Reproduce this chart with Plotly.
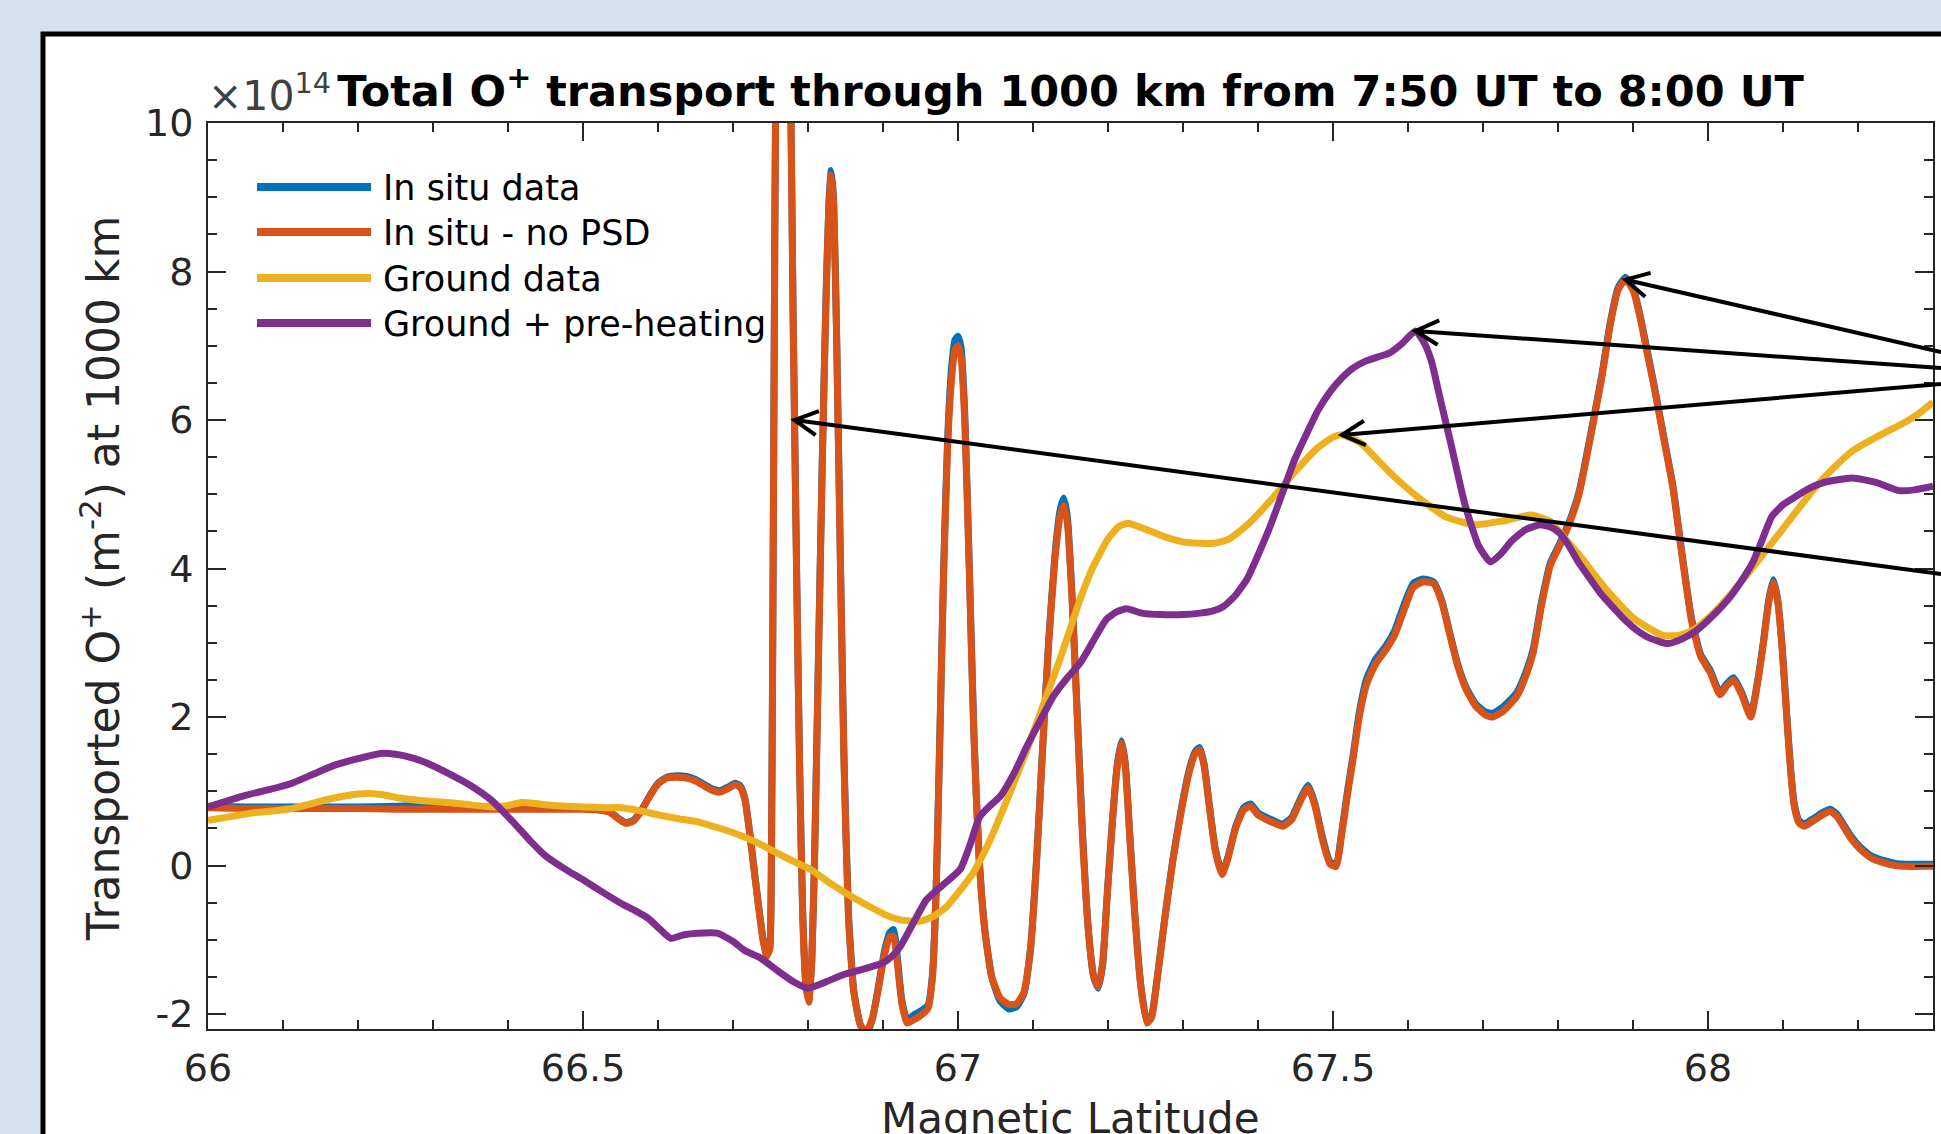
import math
import plotly.graph_objects as go

# ---------------------------------------------------------------------------
# Data: O+ transport through 1000 km (units of 1e14 m^-2) vs magnetic latitude
# ---------------------------------------------------------------------------
lat_insitu = [
    66.000, 66.050, 66.100, 66.150, 66.200, 66.250, 66.300, 66.350, 66.400, 66.450,
    66.500, 66.520, 66.535, 66.547, 66.557, 66.567, 66.578, 66.590, 66.600, 66.612,
    66.625, 66.638, 66.650, 66.662, 66.673, 66.683, 66.694, 66.703, 66.710, 66.716,
    66.722, 66.728, 66.734, 66.740, 66.745, 66.749, 66.751, 66.753, 66.755, 66.757,
    66.762, 66.768, 66.773, 66.777, 66.780, 66.782, 66.785, 66.789, 66.793, 66.797,
    66.801, 66.805, 66.809, 66.814, 66.819, 66.824, 66.828, 66.831, 66.834, 66.838,
    66.843, 66.848, 66.854, 66.861, 66.870, 66.878, 66.886, 66.894, 66.902, 66.909,
    66.914, 66.919, 66.925, 66.932, 66.940, 66.950, 66.960, 66.966, 66.971, 66.976,
    66.981, 66.986, 66.991, 66.996, 67.000, 67.004, 67.009, 67.015, 67.021, 67.028,
    67.036, 67.045, 67.056, 67.068, 67.078, 67.088, 67.097, 67.105, 67.113, 67.121,
    67.129, 67.136, 67.141, 67.146, 67.152, 67.159, 67.166, 67.174, 67.181, 67.187,
    67.193, 67.199, 67.206, 67.212, 67.218, 67.223, 67.229, 67.236, 67.244, 67.252,
    67.258, 67.266, 67.276, 67.287, 67.298, 67.308, 67.316, 67.322, 67.328, 67.335,
    67.343, 67.352, 67.360, 67.370, 67.381, 67.390, 67.400, 67.411, 67.422, 67.433,
    67.445, 67.457, 67.467, 67.476, 67.486, 67.496, 67.504, 67.512, 67.520, 67.527,
    67.535, 67.545, 67.557, 67.570, 67.582, 67.595, 67.607, 67.620, 67.634, 67.645,
    67.656, 67.666, 67.677, 67.690, 67.703, 67.713, 67.727, 67.745, 67.757, 67.767,
    67.778, 67.790, 67.802, 67.815, 67.828, 67.842, 67.858, 67.870, 67.880, 67.890,
    67.900, 67.909, 67.919, 67.928, 67.940, 67.953, 67.965, 67.978, 67.990, 68.003,
    68.016, 68.025, 68.034, 68.045, 68.057, 68.066, 68.074, 68.081, 68.087, 68.093,
    68.099, 68.105, 68.110, 68.115, 68.121, 68.128, 68.140, 68.152, 68.163, 68.172,
    68.181, 68.191, 68.203, 68.218, 68.234, 68.250, 68.265, 68.283, 68.300,
]

insitu_data = [
    0.80, 0.79, 0.79, 0.79, 0.79, 0.80, 0.82, 0.80, 0.78, 0.78,
    0.78, 0.77, 0.73, 0.64, 0.58, 0.61, 0.75, 0.96, 1.11, 1.19,
    1.21, 1.20, 1.16, 1.09, 1.03, 1.01, 1.06, 1.11, 1.07, 0.90,
    0.47, -0.03, -0.53, -0.98, -1.20, -1.10, -0.18, 3.05, 7.05, 10.45,
    12.85, 13.65, 12.55, 10.35, 7.55, 6.05, 3.85, 1.25, -0.65, -1.55,
    -1.82, -1.28, 0.25, 2.85, 5.45, 7.65, 8.95, 9.36, 9.00, 7.25,
    4.25, 1.45, -0.65, -1.68, -2.15, -2.26, -2.06, -1.62, -1.15, -0.90,
    -0.86, -1.22, -1.80, -2.08, -2.02, -1.96, -1.88, -1.46, -0.26, 1.85,
    4.05, 5.70, 6.65, 7.08, 7.13, 6.98, 6.10, 4.05, 1.85, 0.15,
    -0.88, -1.50, -1.82, -1.93, -1.90, -1.72, -1.08, 0.12, 1.62, 3.05,
    4.15, 4.78, 4.95, 4.68, 3.65, 2.05, 0.45, -0.88, -1.50, -1.65,
    -1.32, -0.38, 0.62, 1.33, 1.68, 1.38, 0.43, -0.68, -1.63, -2.10,
    -2.03, -1.48, -0.68, 0.12, 0.78, 1.28, 1.53, 1.59, 1.38, 0.83,
    0.23, -0.10, 0.12, 0.52, 0.78, 0.83, 0.71, 0.65, 0.60, 0.56,
    0.65, 0.91, 1.08, 0.83, 0.38, 0.05, 0.02, 0.48, 1.05, 1.50,
    2.06, 2.52, 2.78, 2.95, 3.16, 3.52, 3.80, 3.86, 3.82, 3.57,
    3.12, 2.72, 2.41, 2.18, 2.07, 2.05, 2.14, 2.33, 2.60, 2.92,
    3.55, 4.08, 4.33, 4.63, 5.03, 5.73, 6.58, 7.33, 7.78, 7.92,
    7.78, 7.43, 6.93, 6.48, 5.83, 5.13, 4.23, 3.33, 2.85, 2.63,
    2.33, 2.45, 2.53, 2.33, 2.03, 2.48, 3.03, 3.58, 3.85, 3.58,
    2.93, 2.03, 1.33, 0.83, 0.61, 0.56, 0.63, 0.71, 0.76, 0.69,
    0.55, 0.39, 0.25, 0.13, 0.07, 0.03, 0.02, 0.02, 0.02,
]

insitu_no_psd = [
    0.78, 0.77, 0.77, 0.77, 0.77, 0.76, 0.76, 0.76, 0.76, 0.76,
    0.76, 0.75, 0.72, 0.63, 0.57, 0.60, 0.74, 0.95, 1.10, 1.18,
    1.19, 1.18, 1.14, 1.07, 1.01, 0.99, 1.04, 1.09, 1.05, 0.88,
    0.45, -0.05, -0.55, -1.00, -1.22, -1.12, -0.20, 3.00, 7.00, 10.40,
    12.80, 13.60, 12.50, 10.30, 7.50, 6.00, 3.80, 1.20, -0.70, -1.60,
    -1.84, -1.30, 0.20, 2.80, 5.40, 7.60, 8.90, 9.30, 8.95, 7.20,
    4.20, 1.40, -0.70, -1.70, -2.15, -2.24, -2.05, -1.65, -1.20, -0.96,
    -0.95, -1.30, -1.85, -2.12, -2.08, -2.02, -1.92, -1.50, -0.30, 1.80,
    4.00, 5.60, 6.50, 6.95, 7.00, 6.85, 6.00, 4.00, 1.80, 0.10,
    -0.90, -1.50, -1.78, -1.87, -1.86, -1.70, -1.10, 0.10, 1.60, 3.00,
    4.10, 4.70, 4.85, 4.60, 3.60, 2.00, 0.40, -0.90, -1.50, -1.63,
    -1.30, -0.40, 0.60, 1.30, 1.65, 1.35, 0.40, -0.70, -1.65, -2.12,
    -2.05, -1.50, -0.70, 0.10, 0.75, 1.25, 1.50, 1.56, 1.35, 0.80,
    0.20, -0.12, 0.10, 0.50, 0.75, 0.80, 0.68, 0.62, 0.57, 0.53,
    0.62, 0.88, 1.05, 0.80, 0.35, 0.02, -0.01, 0.45, 1.00, 1.45,
    2.00, 2.45, 2.72, 2.90, 3.10, 3.45, 3.75, 3.82, 3.80, 3.55,
    3.10, 2.70, 2.38, 2.15, 2.03, 2.00, 2.08, 2.28, 2.55, 2.87,
    3.50, 4.05, 4.30, 4.60, 5.00, 5.70, 6.55, 7.30, 7.75, 7.89,
    7.75, 7.40, 6.90, 6.45, 5.80, 5.10, 4.20, 3.30, 2.82, 2.60,
    2.30, 2.42, 2.50, 2.30, 2.00, 2.45, 3.00, 3.55, 3.82, 3.55,
    2.90, 2.00, 1.30, 0.80, 0.58, 0.53, 0.60, 0.68, 0.73, 0.66,
    0.52, 0.36, 0.22, 0.10, 0.04, 0.00, -0.01, -0.01, -0.01,
]

lat_ground = [
    66.000, 66.030, 66.060, 66.090, 66.112, 66.140, 66.168, 66.190, 66.214, 66.235,
    66.255, 66.280, 66.306, 66.340, 66.378, 66.400, 66.418, 66.435, 66.449, 66.475,
    66.500, 66.530, 66.551, 66.575, 66.602, 66.628, 66.653, 66.680, 66.704, 66.730,
    66.755, 66.780, 66.803, 66.830, 66.855, 66.880, 66.905, 66.923, 66.949, 66.968,
    66.985, 67.003, 67.020, 67.035, 67.047, 67.070, 67.092, 67.115, 67.136, 67.150,
    67.163, 67.180, 67.200, 67.215, 67.227, 67.250, 67.275, 67.300, 67.323, 67.340,
    67.360, 67.386, 67.417, 67.449, 67.480, 67.500, 67.512, 67.537, 67.556, 67.575,
    67.612, 67.650, 67.688, 67.726, 67.764, 67.789, 67.808, 67.827, 67.865, 67.902,
    67.940, 67.960, 67.978, 68.000, 68.016, 68.053, 68.091, 68.117, 68.142, 68.167,
    68.192, 68.230, 68.261, 68.280, 68.300,
]

ground_data = [
    0.61, 0.66, 0.71, 0.74, 0.77, 0.84, 0.91, 0.95, 0.97, 0.95,
    0.91, 0.88, 0.86, 0.83, 0.79, 0.81, 0.85, 0.84, 0.82, 0.80,
    0.79, 0.78, 0.78, 0.74, 0.68, 0.63, 0.59, 0.51, 0.43, 0.32,
    0.19, 0.06, -0.05, -0.24, -0.40, -0.54, -0.67, -0.73, -0.75, -0.68,
    -0.55, -0.33, -0.10, 0.18, 0.44, 1.00, 1.56, 2.20, 2.78, 3.20,
    3.59, 4.02, 4.40, 4.57, 4.61, 4.53, 4.43, 4.36, 4.34, 4.34,
    4.39, 4.59, 4.92, 5.30, 5.63, 5.77, 5.80, 5.69, 5.50, 5.30,
    4.97, 4.70, 4.59, 4.64, 4.72, 4.64, 4.42, 4.20, 3.71, 3.32,
    3.10, 3.10, 3.16, 3.33, 3.49, 3.93, 4.42, 4.76, 5.08, 5.35,
    5.58, 5.80, 5.96, 6.08, 6.24,
]

lat_preheat = [
    66.000, 66.025, 66.051, 66.080, 66.112, 66.140, 66.168, 66.200, 66.230, 66.250,
    66.265, 66.290, 66.321, 66.350, 66.378, 66.395, 66.413, 66.430, 66.449, 66.475,
    66.500, 66.525, 66.551, 66.570, 66.587, 66.603, 66.617, 66.635, 66.653, 66.679,
    66.700, 66.715, 66.736, 66.760, 66.780, 66.800, 66.825, 66.847, 66.875, 66.900,
    66.912, 66.923, 66.940, 66.958, 66.980, 67.003, 67.015, 67.029, 67.042, 67.056,
    67.075, 67.092, 67.110, 67.127, 67.145, 67.163, 67.180, 67.198, 67.212, 67.225,
    67.245, 67.270, 67.300, 67.323, 67.340, 67.354, 67.370, 67.386, 67.400, 67.417,
    67.433, 67.449, 67.465, 67.480, 67.496, 67.512, 67.528, 67.543, 67.560, 67.575,
    67.592, 67.610, 67.621, 67.631, 67.644, 67.657, 67.676, 67.694, 67.710, 67.724,
    67.738, 67.756, 67.776, 67.790, 67.802, 67.815, 67.827, 67.843, 67.858, 67.875,
    67.890, 67.905, 67.921, 67.946, 67.965, 67.984, 68.005, 68.028, 68.045, 68.060,
    68.072, 68.085, 68.100, 68.117, 68.135, 68.155, 68.192, 68.224, 68.240, 68.255,
    68.275, 68.300,
]

ground_preheat = [
    0.79, 0.87, 0.95, 1.02, 1.11, 1.23, 1.35, 1.44, 1.51, 1.50,
    1.47, 1.39, 1.24, 1.08, 0.88, 0.71, 0.52, 0.33, 0.14, -0.04,
    -0.19, -0.35, -0.51, -0.61, -0.71, -0.86, -0.98, -0.93, -0.91, -0.91,
    -1.02, -1.14, -1.24, -1.42, -1.56, -1.65, -1.56, -1.47, -1.39, -1.31,
    -1.22, -1.09, -0.78, -0.46, -0.26, -0.05, 0.25, 0.66, 0.80, 0.93,
    1.25, 1.61, 1.96, 2.28, 2.52, 2.73, 3.02, 3.32, 3.42, 3.46,
    3.40, 3.38, 3.38, 3.40, 3.43, 3.49, 3.64, 3.87, 4.18, 4.59,
    5.03, 5.47, 5.82, 6.13, 6.38, 6.57, 6.71, 6.79, 6.85, 6.90,
    7.03, 7.20, 7.05, 6.80, 6.24, 5.69, 4.86, 4.31, 4.09, 4.20,
    4.37, 4.52, 4.59, 4.56, 4.48, 4.30, 4.09, 3.86, 3.65, 3.46,
    3.30, 3.17, 3.07, 2.99, 3.05, 3.16, 3.35, 3.60, 3.84, 4.09,
    4.38, 4.70, 4.86, 4.97, 5.08, 5.16, 5.22, 5.16, 5.10, 5.05,
    5.06, 5.11,
]

series_names = ["In situ data", "In situ - no PSD", "Ground data", "Ground + pre-heating"]
series_colors = ["#0072BD", "#D95319", "#EDB120", "#7E2F8E"]

x_ticks = [66, 66.5, 67, 67.5, 68]
y_ticks = [-2, 0, 2, 4, 6, 8, 10]

# ---------------------------------------------------------------------------
# Geometry of the figure (pixels)
# ---------------------------------------------------------------------------
W, H = 1941, 1134
ML, MR, MT, MB = 208, 8, 123, 105
X_RANGE = [66, 68.3]
Y_RANGE = [-2.2, 10.0]
PW, PH = W - ML - MR, H - MT - MB

INK = "#262626"
FONT = "DejaVu Sans"


def paper_x(px):
    return (px - ML) / PW


def paper_y(py):
    return (H - MB - py) / PH


def data_to_px(x, y):
    px = ML + (x - X_RANGE[0]) / (X_RANGE[1] - X_RANGE[0]) * PW
    py = MT + (Y_RANGE[1] - y) / (Y_RANGE[1] - Y_RANGE[0]) * PH
    return px, py


fig = go.Figure()

series = [
    (lat_insitu, insitu_data),
    (lat_insitu, insitu_no_psd),
    (lat_ground, ground_data),
    (lat_preheat, ground_preheat),
]
for (xs, ys), name, color in zip(series, series_names, series_colors):
    fig.add_trace(go.Scatter(
        x=xs, y=ys, name=name, mode="lines",
        line=dict(color=color, width=7, shape="spline", smoothing=0.5),
        showlegend=False,
    ))

shapes = []
annotations = []

# White slide panel with a black frame behind the chart
shapes.append(dict(
    type="rect", xref="paper", yref="paper", layer="below",
    x0=paper_x(43), x1=paper_x(W + 40), y0=paper_y(H + 40), y1=paper_y(34),
    fillcolor="white", line=dict(color="black", width=5),
))

# Legend drawn by hand (long line samples, no box)
legend_y = [187, 232, 278, 323]
for name, color, ly in zip(series_names, series_colors, legend_y):
    shapes.append(dict(
        type="line", xref="paper", yref="paper",
        x0=paper_x(257), x1=paper_x(371), y0=paper_y(ly), y1=paper_y(ly),
        line=dict(color=color, width=8),
    ))
    annotations.append(dict(
        xref="paper", yref="paper", x=paper_x(381), y=paper_y(ly + 1),
        xanchor="left", yanchor="middle", showarrow=False,
        text=name, font=dict(family=FONT, size=35, color="black"),
    ))

# Exponent label above the y axis
annotations.append(dict(
    xref="paper", yref="paper", x=paper_x(206), y=paper_y(122),
    xanchor="left", yanchor="bottom", showarrow=False,
    text="×10<sup>14</sup>", font=dict(family=FONT, size=41, color="#404040"),
))

# Axis titles
annotations.append(dict(
    xref="paper", yref="paper", x=0.5, y=paper_y(1092),
    xanchor="center", yanchor="top", showarrow=False,
    text="Magnetic Latitude", font=dict(family=FONT, size=42, color=INK),
))
annotations.append(dict(
    xref="paper", yref="paper", x=paper_x(100), y=paper_y(579),
    xanchor="center", yanchor="middle", showarrow=False, textangle=-90,
    text="Transported O<sup>+</sup> (m<sup>-2</sup>) at 1000 km",
    font=dict(family=FONT, size=44, color=INK),
))

# Pointer arrows with open V heads on the highlighted features
i_orange = max((i for i in range(len(lat_insitu)) if lat_insitu[i] > 67.5),
               key=lambda i: insitu_no_psd[i])
i_purple = max(range(len(ground_preheat)), key=lambda i: ground_preheat[i])
i_yellow = max((i for i in range(len(lat_ground)) if lat_ground[i] < 67.7),
               key=lambda i: ground_data[i])
i_spike = lat_insitu.index(66.782)

arrows = [
    (lat_insitu[i_orange], insitu_no_psd[i_orange], (1941, 352)),
    (lat_preheat[i_purple], ground_preheat[i_purple], (1941, 368)),
    (lat_ground[i_yellow], ground_data[i_yellow], (1941, 384)),
    (lat_insitu[i_spike], insitu_no_psd[i_spike], (1941, 574)),
]
HEAD_LEN, HEAD_ANG = 26, math.radians(28)
for hx, hy, (tx, ty) in arrows:
    hpx, hpy = data_to_px(hx, hy)
    ang = math.atan2(ty - hpy, tx - hpx)
    arms = [(hpx + HEAD_LEN * math.cos(ang + s * HEAD_ANG),
             hpy + HEAD_LEN * math.sin(ang + s * HEAD_ANG)) for s in (-1, 1)]
    path = (
        f"M{paper_x(tx)},{paper_y(ty)} L{paper_x(hpx)},{paper_y(hpy)} "
        f"M{paper_x(arms[0][0])},{paper_y(arms[0][1])} L{paper_x(hpx)},{paper_y(hpy)} "
        f"L{paper_x(arms[1][0])},{paper_y(arms[1][1])}"
    )
    shapes.append(dict(
        type="path", xref="paper", yref="paper", path=path,
        line=dict(color="black", width=4),
    ))

axis_common = dict(
    showgrid=False, zeroline=False, showline=True, linecolor=INK, linewidth=2,
    mirror="allticks", ticks="inside", ticklen=18, tickwidth=1.5, tickcolor=INK,
    tickfont=dict(family=FONT, size=38, color=INK),
    automargin=False,
)

fig.update_layout(
    width=W, height=H,
    margin=dict(l=ML, r=MR, t=MT, b=MB, pad=0),
    paper_bgcolor="#d5e4ec",
    plot_bgcolor="white",
    font=dict(family=FONT, color=INK),
    showlegend=False,
    title=dict(
        text="<b>Total O<sup>+</sup> transport through 1000 km from 7:50 UT to 8:00 UT</b>",
        font=dict(family=FONT, size=43, color="black"),
        x=0.5, xref="paper", xanchor="center",
        y=1, yref="paper", yanchor="bottom", pad=dict(b=17),
    ),
    xaxis=dict(
        range=X_RANGE, tickvals=x_ticks, ticktext=[f"{v:g}" for v in x_ticks],
        ticklabelstandoff=4,
        minor=dict(dtick=0.1, ticks="inside", ticklen=9, tickwidth=1.5, tickcolor=INK),
        **axis_common,
    ),
    yaxis=dict(
        range=Y_RANGE, tickvals=y_ticks, ticktext=[f"{v:g}" for v in y_ticks],
        ticklabelstandoff=5,
        minor=dict(dtick=0.5, ticks="inside", ticklen=9, tickwidth=1.5, tickcolor=INK),
        **axis_common,
    ),
    shapes=shapes,
    annotations=annotations,
)

fig.write_html("out.html")
